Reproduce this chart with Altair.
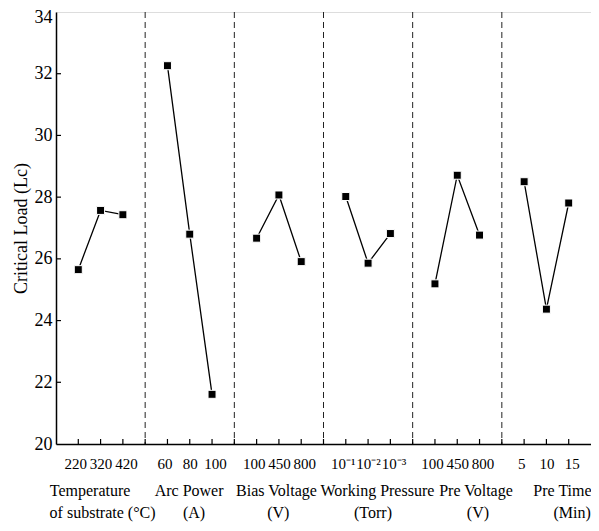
import altair as alt
import pandas as pd

# ---- data ----
level_labels = [
    ["220", "320", "420"],
    ["60", "80", "100"],
    ["100", "450", "800"],
    ["10⁻¹", "10⁻²", "10⁻³"],
    ["100", "450", "800"],
    ["5", "10", "15"],
]
lc_values = [
    [25.65, 27.57, 27.43],
    [32.26, 26.80, 21.61],
    [26.67, 28.07, 25.91],
    [28.02, 25.86, 26.82],
    [25.19, 28.71, 26.77],
    [28.50, 24.37, 27.81],
]
title_line1 = ["Temperature", "Arc Power", "Bias Voltage", "Working Pressure", "Pre Voltage", "Pre Time"]
title_line2 = ["of substrate (°C)", "(A)", "(V)", "(Torr)", "(V)", "(Min)"]
y_ticks = [20, 22, 24, 26, 28, 30, 32, 34]

# layout (x in slot units: each factor panel spans 4 slots)
title_pos1 = [1.53, 5.97, 9.89, 14.42, 18.84, 22.72]
title_pos2 = [2.09, 6.19, 9.97, 14.22, 18.93, 23.15]

W, H = 535, 432
FONT = "Liberation Serif"

rows = []
label_arr = [""] * 25
for p, (labs, vals) in enumerate(zip(level_labels, lc_values)):
    for i, (lab, v) in enumerate(zip(labs, vals)):
        pos = p * 4 + i + 1
        rows.append({"panel": p, "pos": pos, "lc": v, "level": lab})
        label_arr[pos] = lab
df = pd.DataFrame(rows)

seps = pd.DataFrame({"pos": [4, 8, 12, 16, 20]})
xt = pd.DataFrame({"pos": [i for i in range(1, 24)]})
yt = pd.DataFrame({"lc": y_ticks[1:-1]})
t1 = pd.DataFrame({"pos": title_pos1, "txt": title_line1})
t2 = pd.DataFrame({"pos": title_pos2, "txt": title_line2})

label_expr = "[" + ",".join("'" + s + "'" for s in label_arr) + "][datum.value]"
tick_vals = [i for i in range(1, 24) if i % 4 != 0]

X = alt.X(
    "pos:Q",
    scale=alt.Scale(domain=[0, 24], nice=False, zero=False),
    axis=alt.Axis(
        values=tick_vals, labelExpr=label_expr, ticks=False, grid=False, title=None,
        labelFont=FONT, labelFontSize=15, labelColor="black", labelPadding=12,
        labelOffset=alt.ExprRef(expr="(datum.value % 4 - 2) * 3"),
        labelOverlap=False, labelBound=False, labelFlush=False,
        domainColor="black", domainWidth=1.5,
    ),
)
Y = alt.Y(
    "lc:Q",
    scale=alt.Scale(domain=[20, 34], nice=False, zero=False),
    axis=alt.Axis(
        values=y_ticks, ticks=False, grid=False, title="Critical Load (Lc)",
        labelFont=FONT, labelFontSize=18, labelColor="black", labelPadding=4,
        labelOffset=alt.ExprRef(expr="datum.value == 34 ? 5 : 0"),
        titleFont=FONT, titleFontSize=18, titleFontWeight="normal", titleColor="black",
        titlePadding=4, domainColor="black", domainWidth=1.5,
    ),
)

sep_layer = alt.Chart(seps).mark_rule(color="#222", strokeWidth=1, strokeDash=[6, 4]).encode(
    x=X, y=alt.value(0), y2=alt.value(H)
)
xtick_layer = alt.Chart(xt).mark_rule(color="black", strokeWidth=1.2).encode(
    x=X, y=alt.value(H - 5), y2=alt.value(H)
)
ytick_layer = alt.Chart(yt).mark_rule(color="black", strokeWidth=1.2).encode(
    y=Y, x=alt.value(0), x2=alt.value(5)
)
line_layer = alt.Chart(df).mark_line(color="black", strokeWidth=1.3).encode(
    x=X, y=Y, detail="panel:N"
)
pt_layer = alt.Chart(df).mark_square(size=64, color="black", opacity=1, stroke="white", strokeWidth=1).encode(
    x=X, y=Y
)
title1_layer = alt.Chart(t1).mark_text(font=FONT, fontSize=16, color="black", baseline="alphabetic", align="center").encode(
    x=X, y=alt.value(484), text="txt:N"
)
title2_layer = alt.Chart(t2).mark_text(font=FONT, fontSize=16, color="black", baseline="alphabetic", align="center").encode(
    x=X, y=alt.value(506), text="txt:N"
)

chart = alt.layer(
    sep_layer, xtick_layer, ytick_layer, line_layer, pt_layer, title1_layer, title2_layer
).properties(
    width=W, height=H,
    autosize=alt.AutoSizeParams(type="none"),
    padding={"left": 48, "top": 4, "right": 0, "bottom": 78},
).configure_view(stroke="black", strokeWidth=1.5).configure_axis(
    labelFont=FONT, titleFont=FONT
).configure(background="white")

chart.save("out.html", embed_options={"renderer": "svg", "actions": False})
